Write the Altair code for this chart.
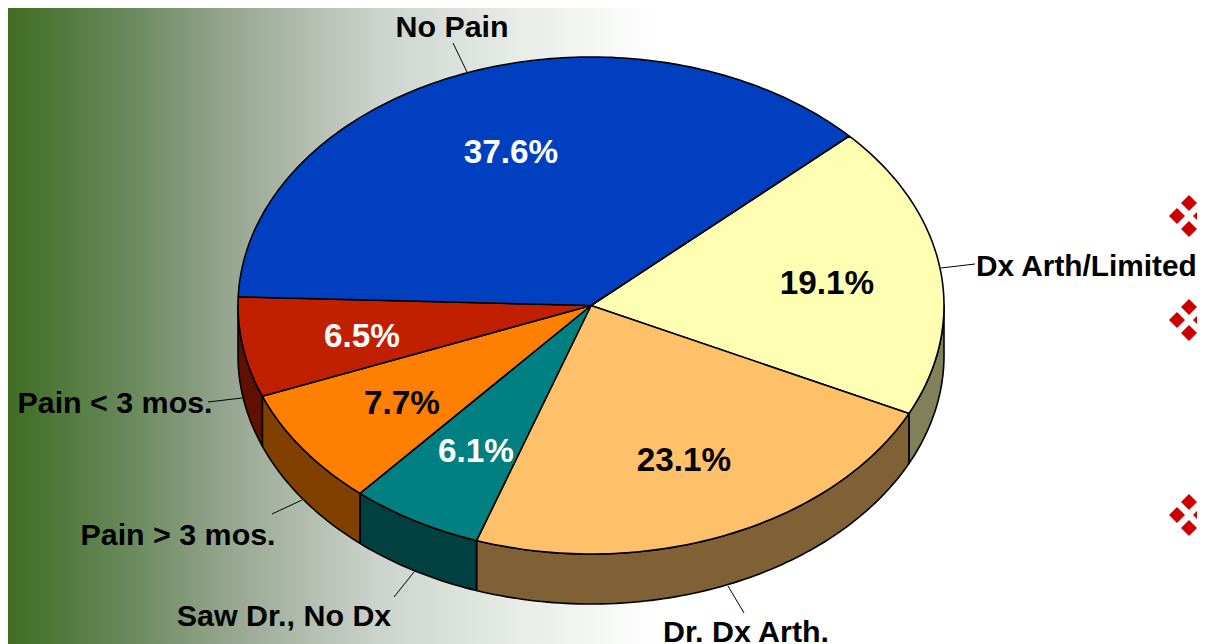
import math
import altair as alt
import pandas as pd

# ---- pie data (clockwise, beginning after the "No Pain" slice) ----
categories = ["Dx Arth/Limited", "Dr. Dx Arth.", "Saw Dr., No Dx", "Pain > 3 mos.", "Pain < 3 mos.", "No Pain"]
values = [19.1, 23.1, 6.1, 7.7, 6.5, 37.6]
top_colors = ["#FFFFB3", "#FFC06A", "#008080", "#FF8000", "#C02000", "#0040C0"]
side_colors = ["#80805A", "#806035", "#004040", "#804000", "#601000", "#002060"]
pct_labels = ["19.1%", "23.1%", "6.1%", "7.7%", "6.5%", "37.6%"]
pct_colors = ["black", "black", "white", "black", "white", "white"]
pct_x = [827, 684, 476, 402, 362, 511]
pct_y = [283.5, 460.5, 451.5, 403.5, 336.5, 152.5]
label_x = [976, 746, 284, 178, 115, 452]
label_y = [267, 633, 617, 536, 404, 28]
label_align = ["left", "center", "center", "center", "center", "center"]
leader_x = [941, 728, 414, 302, 242, 467]
leader_y = [268, 586, 572, 500, 398, 72]
leader_x2 = [975, 744, 394, 272, 208, 453]
leader_y2 = [264, 613, 597, 514, 402, 43]
bullet_cx = [1189, 1189, 1189]
bullet_cy = [216, 320, 515]
diamond_dx = [0, -12, 0, 12]
diamond_dy = [-13, 0, 13, 0]
grad_offsets = [0.0, 0.2, 0.35, 0.57, 0.8, 1.0]
grad_colors = ["#3D6B1F", "#6A8A5E", "#97A690", "#CCD2CC", "#E9EEE9", "#FFFFFF"]

# ---- pie geometry, in page pixels ----
CX, CY, RX, RY, DEPTH, START = 591, 305.5, 353, 248.5, 50, 47.0
PAGE = 8
W, H = 1189, 636


def rim(t, dy=0):
    a = math.radians(t)
    return [CX + RX * math.sin(a), CY - RY * math.cos(a) + dy]


def arc(t0, t1, dy=0):
    n = max(2, int(abs(t1 - t0)) + 2)
    return [rim(t0 + (t1 - t0) * i / (n - 1), dy) for i in range(n)]


def feature(ring, fill):
    return {"type": "Feature", "properties": {"fill": fill},
            "geometry": {"type": "Polygon", "coordinates": [ring + [ring[0]]]}}


tops, sides = [], []
a0 = START
for i, v in enumerate(values):
    a1 = START + 360 if i == len(values) - 1 else a0 + v * 3.6
    tops.append(feature([[CX, CY]] + arc(a0, a1), top_colors[i]))
    lo, hi = max(a0, 90), min(a1, 270)
    if hi > lo:
        sides.append(feature(arc(lo, hi) + arc(hi, lo, DEPTH), side_colors[i]))
    a0 = a1

x_scale = alt.Scale(domain=[PAGE, PAGE + W], range=[0, W], nice=False, zero=False)
y_scale = alt.Scale(domain=[PAGE, PAGE + H], range=[0, H], nice=False, zero=False)
X = lambda f: alt.X(f, type="quantitative", scale=x_scale, axis=None)
Y = lambda f: alt.Y(f, type="quantitative", scale=y_scale, axis=None)

gradient = alt.Gradient(
    gradient="linear", x1=0, x2=1, y1=0, y2=0,
    stops=[alt.GradientStop(offset=o, color=c) for o, c in zip(grad_offsets, grad_colors)],
)
background = alt.Chart(pd.DataFrame({"x": [0], "x2": [660], "y": [0], "y2": [660]})).mark_rect(
    color=gradient, clip=True
).encode(x=X("x"), x2="x2", y=Y("y"), y2="y2")

leaders = alt.Chart(pd.DataFrame({"x": leader_x, "x2": leader_x2, "y": leader_y, "y2": leader_y2})).mark_rule(
    color="black", strokeWidth=1
).encode(x=X("x"), x2="x2", y=Y("y"), y2="y2")


def geo(features):
    return alt.Chart(alt.Data(values=features)).mark_geoshape(
        stroke="black", strokeWidth=1.6, strokeJoin="round"
    ).encode(color=alt.Color("properties.fill:N", scale=None)).project(
        type="identity", scale=1, translate=[-PAGE, -PAGE]
    )


label_df = pd.DataFrame({"t": categories, "x": label_x, "y": label_y, "a": label_align})
labels = [
    alt.Chart(label_df[label_df.a == a]).mark_text(
        font="Liberation Sans", fontWeight="bold", fontSize=s, color="black", align=a, baseline="middle"
    ).encode(x=X("x"), y=Y("y"), text="t:N")
    for a, s in [("left", 29.8), ("center", 30.4)]
]

pct = alt.Chart(pd.DataFrame({"t": pct_labels, "x": pct_x, "y": pct_y, "c": pct_colors})).mark_text(
    font="Liberation Sans", fontWeight="bold", fontSize=33.3, align="center", baseline="middle"
).encode(x=X("x"), y=Y("y"), text="t:N", color=alt.Color("c:N", scale=None))

bullet_rows = [
    {"x": cx + dx, "y": cy + dy}
    for cx, cy in zip(bullet_cx, bullet_cy)
    for dx, dy in zip(diamond_dx, diamond_dy)
]
bullets = alt.Chart(pd.DataFrame(bullet_rows)).mark_point(
    shape="diamond", filled=True, color="#CC0000", opacity=1, size=256, clip=True
).encode(x=X("x"), y=Y("y"))

chart = alt.layer(background, leaders, geo(sides), geo(tops), labels[0], labels[1], pct, bullets).properties(
    width=W, height=H, padding=0, background="white",
    autosize=alt.AutoSizeParams(type="none"),
).configure_view(stroke=None)

chart.save("out.html", embed_options={"renderer": "svg", "actions": False})
